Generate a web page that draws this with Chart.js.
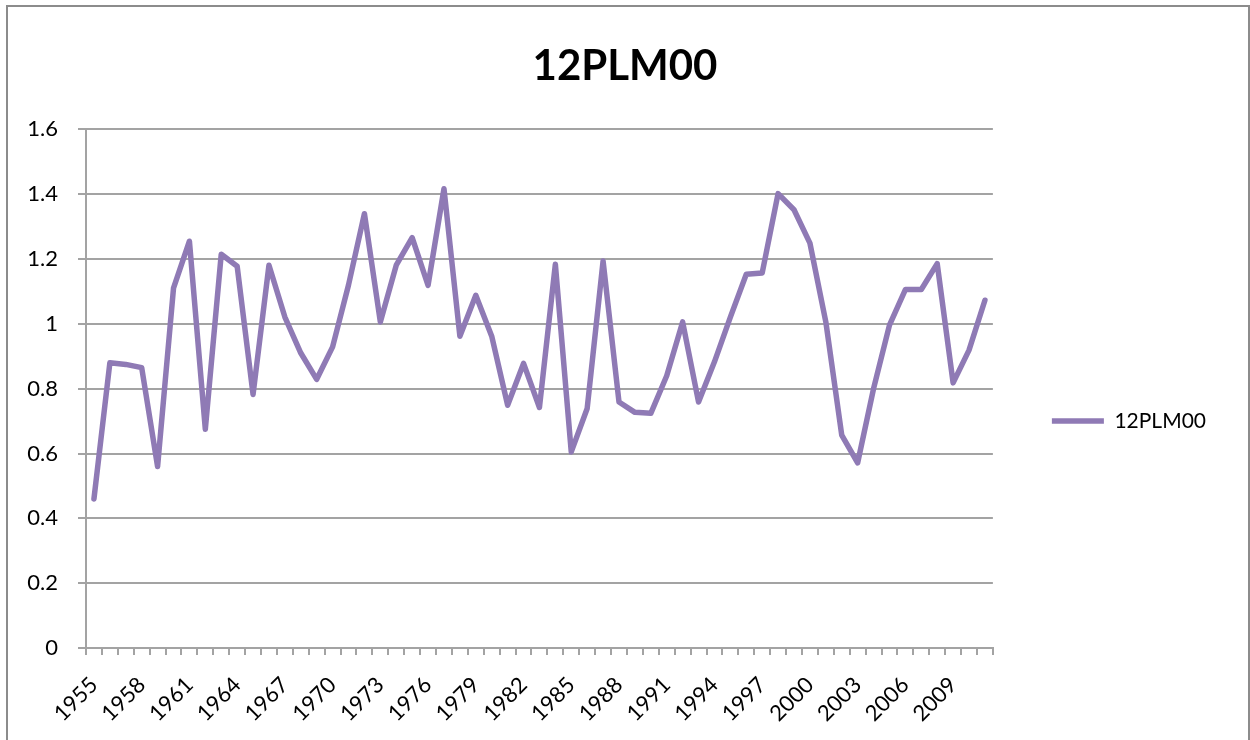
<!DOCTYPE html>
<html>
<head>
<meta charset="utf-8">
<title>12PLM00</title>
<script src="https://cdn.jsdelivr.net/npm/chart.js@4.4.0/dist/chart.umd.min.js"></script>
<style>
  html, body { margin: 0; padding: 0; background: #fff; }
  #wrap { width: 1250px; height: 740px; position: relative; }
</style>
</head>
<body>
<div id="wrap"><canvas id="plmChart" width="1250" height="740"></canvas></div>
<script>
// Data
const seriesName = '12PLM00';
const years = [
    '1955', '1956', '1957', '1958', '1959', '1960', '1961', '1962', '1963', '1964',
    '1965', '1966', '1967', '1968', '1969', '1970', '1971', '1972', '1973', '1974',
    '1975', '1976', '1977', '1978', '1979', '1980', '1981', '1982', '1983', '1984',
    '1985', '1986', '1987', '1988', '1989', '1990', '1991', '1992', '1993', '1994',
    '1995', '1996', '1997', '1998', '1999', '2000', '2001', '2002', '2003', '2004',
    '2005', '2006', '2007', '2008', '2009', '2010', '2011'
];
const plmValues = [
    0.46, 0.88, 0.875, 0.865, 0.56, 1.11, 1.255, 0.675, 1.215, 1.178,
    0.782, 1.181, 1.021, 0.91, 0.829, 0.929, 1.12, 1.34, 1.006, 1.181,
    1.266, 1.119, 1.417, 0.962, 1.088, 0.962, 0.749, 0.878, 0.742, 1.184,
    0.605, 0.739, 1.194, 0.759, 0.727, 0.724, 0.84, 1.006, 0.759, 0.883,
    1.021, 1.153, 1.157, 1.402, 1.352, 1.249, 1.006, 0.657, 0.571, 0.8,
    0.996, 1.106, 1.106, 1.186, 0.818, 0.919, 1.073
];
const yTicks = { min: 0, max: 1.6, step: 0.2 };

const lineColor = '#8F7AB5';
const gridColor = '#a3a3a3';

Chart.defaults.font.family = 'Lato';
Chart.defaults.color = '#000';

// gray frame round the whole chart, like the spreadsheet export
const framePlugin = {
    id: 'frame',
    beforeDraw(chart) {
        const ctx = chart.ctx;
        ctx.save();
        ctx.strokeStyle = '#8c8c8c';
        ctx.lineWidth = 2;
        ctx.strokeRect(7, 6, 1242, 745);
        ctx.restore();
    }
};

// title is centred on the whole canvas, not on the space left of the legend padding
const centreTitle = {
    id: 'centreTitle',
    afterLayout(chart) {
        const t = chart.titleBlock;
        if (!t) return;
        t.left = 0;
        t.right = chart.width;
        t.width = chart.width;
    }
};

const ctx = document.getElementById('plmChart').getContext('2d');
const plmChart = new Chart(ctx, {
    type: 'line',
    data: {
        labels: years,
        datasets: [{
            label: seriesName,
            data: plmValues,
            borderColor: lineColor,
            backgroundColor: lineColor,
            borderWidth: 5.5,
            borderJoinStyle: 'round',
            borderCapStyle: 'round',
            pointRadius: 0,
            pointStyle: 'line',
            tension: 0
        }]
    },
    options: {
        responsive: false,
        animation: false,
        layout: { padding: { top: 0, left: 0, right: 34, bottom: 0 } },
        scales: {
            x: {
                offset: true,
                grid: {
                    offset: true,
                    drawOnChartArea: false,
                    drawTicks: true,
                    tickLength: 7,
                    color: gridColor,
                    lineWidth: 2
                },
                border: { display: true, color: gridColor, width: 2 },
                ticks: {
                    autoSkip: false,
                    maxRotation: 45,
                    minRotation: 45,
                    padding: 17,
                    font: { size: 22 },
                    callback: (val, i) => (i % 3 === 0 ? years[i] : '')
                },
                afterFit: (scale) => { scale.height = 92; }
            },
            y: {
                min: yTicks.min,
                max: yTicks.max,
                grid: {
                    color: gridColor,
                    lineWidth: 2,
                    tickLength: 8
                },
                border: { display: true, color: gridColor, width: 2 },
                ticks: {
                    stepSize: yTicks.step,
                    padding: 20,
                    font: { size: 22 },
                    callback: (v) => String(Number(v.toFixed(1)))
                },
                afterFit: (scale) => { scale.width = 86; }
            }
        },
        plugins: {
            legend: {
                position: 'right',
                // empty legend title only pushes the entry down to where the original has it
                title: { display: true, text: ' ', font: { size: 10 }, padding: 45 },
                labels: {
                    usePointStyle: true,
                    pointStyleWidth: 52,
                    padding: 59,
                    color: '#000',
                    font: { size: 21 }
                }
            },
            tooltip: { enabled: false },
            title: {
                display: true,
                text: seriesName,
                color: '#000',
                font: { size: 42, weight: 'bold' },
                padding: { top: 41, bottom: 38 }
            }
        }
    },
    plugins: [framePlugin, centreTitle]
});
</script>
</body>
</html>
